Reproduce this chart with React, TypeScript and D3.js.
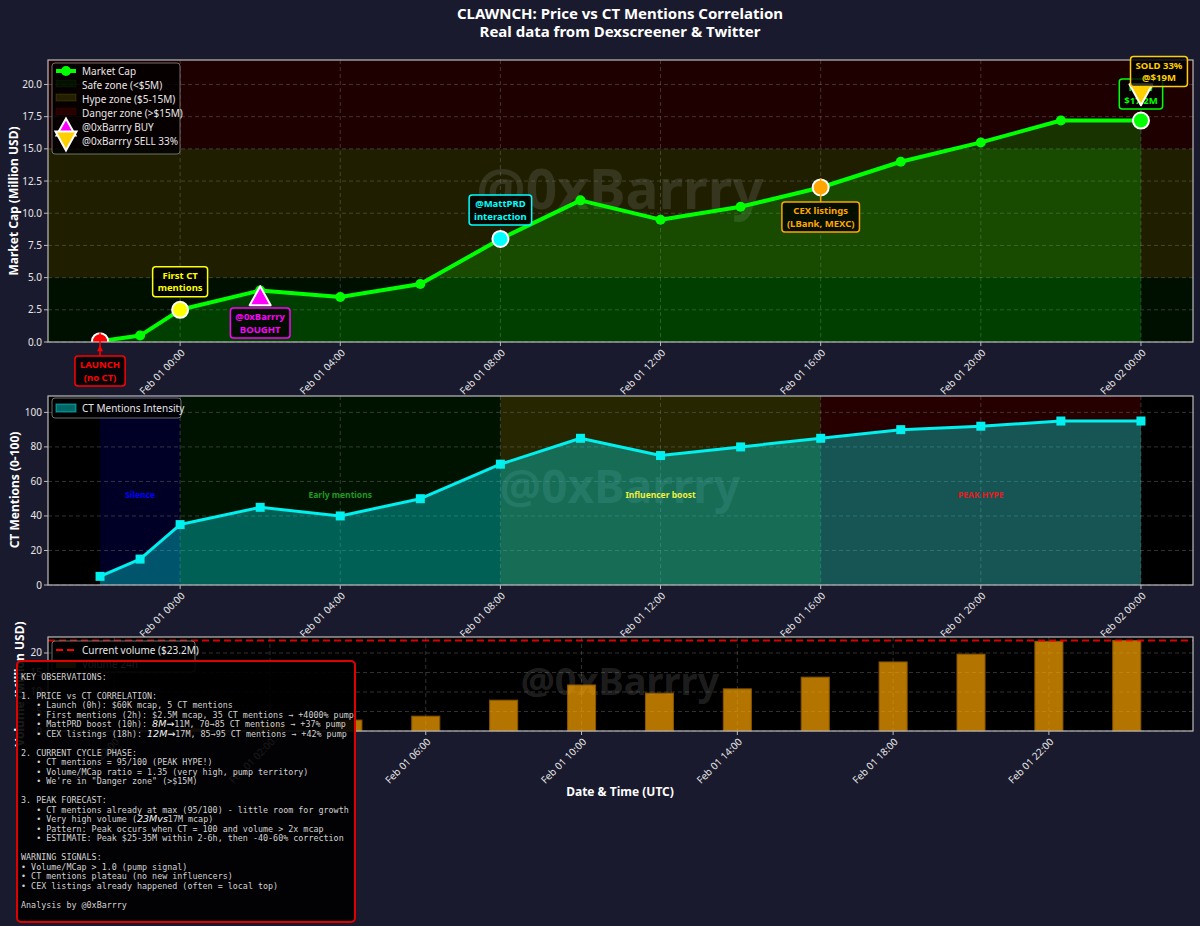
import React from 'react';
import * as d3 from 'd3';

// ---- data (hours relative to Feb 01 00:00 UTC) ----
const hours = [-2, -1, 0, 2, 4, 6, 8, 10, 12, 14, 16, 18, 20, 22, 24];
const marketCap = [0.06, 0.5, 2.5, 4.0, 3.5, 4.5, 8.0, 11.0, 9.5, 10.5, 12.0, 14.0, 15.5, 17.2, 17.2];
const ctMentions = [5, 15, 35, 45, 40, 50, 70, 85, 75, 80, 85, 90, 92, 95, 95];
const volumeHours = [-2, 0, 2, 4, 6, 8, 10, 12, 14, 16, 18, 20, 22, 24];
const volume24h = [0.1, 0.6, 1.8, 2.8, 3.8, 7.9, 11.8, 9.7, 10.8, 13.8, 17.7, 19.7, 23.0, 23.2];
const currentVolume = 23.2;

const topTicks = [0, 4, 8, 12, 16, 20, 24];
const volumeTicks = [-2, 2, 6, 10, 14, 18, 22];
const mcapYTicks = [0, 2.5, 5, 7.5, 10, 12.5, 15, 17.5, 20];
const ctYTicks = [0, 20, 40, 60, 80, 100];
const volYTicks = [0, 5, 10, 15, 20];

const mcapZones = [
  { label: 'Safe zone (<$5M)', from: 0, to: 5, color: '#008000' },
  { label: 'Hype zone ($5-15M)', from: 5, to: 15, color: '#ffff00' },
  { label: 'Danger zone (>$15M)', from: 15, to: 21.9, color: '#ff0000' },
];

const ctPhases = [
  { label: 'Silence', from: -2, to: 0, color: '#0000ff', text: '#0000ff' },
  { label: 'Early mentions', from: 0, to: 8, color: '#008000', text: '#1f9a1f' },
  { label: 'Influencer boost', from: 8, to: 16, color: '#ffff00', text: '#f0f040' },
  { label: 'PEAK HYPE', from: 16, to: 24, color: '#ff0000', text: '#e02020' },
];

const events = [
  { h: -2, v: 0.06, color: '#ff0000', lines: ['LAUNCH', '(no CT)'], th: -2, tv: -2.25, arrow: true },
  { h: 0, v: 2.5, color: '#ffff00', lines: ['First CT', 'mentions'], th: 0, tv: 4.67, arrow: false },
  { h: 8, v: 8.0, color: '#00ffff', lines: ['@MattPRD', 'interaction'], th: 8, tv: 10.25, arrow: false },
  { h: 16, v: 12.0, color: '#ffa500', lines: ['CEX listings', '(LBank, MEXC)'], th: 16, tv: 9.7, arrow: true },
  { h: 24, v: 17.2, color: '#00ff00', lines: ['NOW', '$17.2M'], th: 24, tv: 19.25, arrow: false },
];
const buy = { h: 2, v: 3.6, lines: ['@0xBarrry', 'BOUGHT'], th: 2, tv: 1.48 };
const sell = { h: 24, v: 19.2, lines: ['SOLD 33%', '@$19M'], th: 24.45, tv: 21.0 };

const noteLines: (string | [string, string, string])[] = [
  'KEY OBSERVATIONS:',
  '',
  '1. PRICE vs CT CORRELATION:',
  '   • Launch (0h): $60K mcap, 5 CT mentions',
  '   • First mentions (2h): $2.5M mcap, 35 CT mentions → +4000% pump',
  ['   • MattPRD boost (10h): ', '8M→', '11M, 70→85 CT mentions → +37% pump'],
  ['   • CEX listings (18h): ', '12M→', '17M, 85→95 CT mentions → +42% pump'],
  '',
  '2. CURRENT CYCLE PHASE:',
  '   • CT mentions = 95/100 (PEAK HYPE!)',
  '   • Volume/MCap ratio = 1.35 (very high, pump territory)',
  '   • We\'re in "Danger zone" (>$15M)',
  '',
  '3. PEAK FORECAST:',
  '   • CT mentions already at max (95/100) - little room for growth',
  ['   • Very high volume (', '23Mvs', '17M mcap)'],
  '   • Pattern: Peak occurs when CT = 100 and volume > 2x mcap',
  '   • ESTIMATE: Peak $25-35M within 2-6h, then -40-60% correction',
  '',
  'WARNING SIGNALS:',
  '• Volume/MCap > 1.0 (pump signal)',
  '• CT mentions plateau (no new influencers)',
  '• CEX listings already happened (often = local top)',
  '',
  'Analysis by @0xBarrry',
];

// ---- layout ----
const W = 1200;
const H = 926;
const L = 48;
const R = 1193;
const FONT = '"Noto Sans", "DejaVu Sans", sans-serif';
const MONO = '"DejaVu Sans Mono", monospace';
const TXT = '#e6e6e6';
const SPINE = '#bbbbbb';

const x1 = d3.scaleLinear().domain([-3.3, 25.3]).range([L, R]);
const x3 = d3.scaleLinear().domain([-3.7, 25.7]).range([L, R]);
const y1 = d3.scaleLinear().domain([0, 21.9]).range([342, 60]);
const y2 = d3.scaleLinear().domain([0, 109.5]).range([585, 396]);
const y3 = d3.scaleLinear().domain([0, 24.1]).range([731, 637]);

const base = Date.UTC(2026, 1, 1);
const fmt = d3.utcFormat('%b %d %H:%M');
const hourLabel = (h: number) => fmt(new Date(base + h * 3600e3));

let ctx: CanvasRenderingContext2D | null = null;
function measure(text: string, font: string) {
  if (!ctx) ctx = document.createElement('canvas').getContext('2d');
  if (!ctx) return text.length * 6;
  ctx.font = font;
  return ctx.measureText(text).width;
}

const tri = (w: number, hgt: number, down = false) =>
  down
    ? `M0,${hgt / 2}L${-w / 2},${-hgt / 2}L${w / 2},${-hgt / 2}Z`
    : `M0,${-hgt / 2}L${-w / 2},${hgt / 2}L${w / 2},${hgt / 2}Z`;

function Grid({ x, y, xt, yt, top, bottom }: any) {
  return (
    <g stroke="#8a8a8a" strokeOpacity={0.45} strokeWidth={0.8} strokeDasharray="4,3">
      {xt.map((t: number) => (
        <line key={'x' + t} x1={x(t)} x2={x(t)} y1={top} y2={bottom} />
      ))}
      {yt.map((t: number) => (
        <line key={'y' + t} x1={L} x2={R} y1={y(t)} y2={y(t)} />
      ))}
    </g>
  );
}

function Frame({ x, y, xt, yt, top, bottom, yfmt, id }: any) {
  return (
    <g>
      <rect x={L} y={top} width={R - L} height={bottom - top} fill="none" stroke={SPINE} strokeWidth={1.2} />
      {yt.map((t: number) => (
        <g key={id + 'yt' + t}>
          <line x1={L - 4} x2={L} y1={y(t)} y2={y(t)} stroke={SPINE} />
          <text x={L - 6} y={y(t)} dy="0.35em" textAnchor="end" fontSize={10} fill={TXT} fontFamily={FONT}>
            {yfmt(t)}
          </text>
        </g>
      ))}
      {xt.map((t: number) => (
        <g key={id + 'xt' + t}>
          <line x1={x(t)} x2={x(t)} y1={bottom} y2={bottom + 4} stroke={SPINE} />
          <text
            transform={`translate(${x(t) + 3},${bottom + 9}) rotate(-45)`}
            textAnchor="end"
            dy="0.35em"
            fontSize={10}
            fill={TXT}
            fontFamily={FONT}
          >
            {hourLabel(t)}
          </text>
        </g>
      ))}
    </g>
  );
}

function Watermark({ cx, cy, size }: any) {
  return (
    <text x={cx} y={cy} dy="0.35em" textAnchor="middle" fontSize={size} fontWeight="bold" fontFamily={FONT} fill="#808080" fillOpacity={0.24}>
      @0xBarrry
    </text>
  );
}

function Label({ cx, cy, lines, color }: any) {
  const fs = 9.5;
  const lh = 12.5;
  const font = `bold ${fs}px ${FONT}`;
  const w = Math.max(...lines.map((l: string) => measure(l, font))) + 10;
  const h = lines.length * lh + 5;
  return (
    <g>
      <rect x={cx - w / 2} y={cy - h / 2} width={w} height={h} rx={3} fill="#000" fillOpacity={0.8} stroke={color} strokeWidth={1.5} />
      {lines.map((l: string, i: number) => (
        <text
          key={i}
          x={cx}
          y={cy + (i - (lines.length - 1) / 2) * lh}
          dy="0.35em"
          textAnchor="middle"
          fontSize={fs}
          fontWeight="bold"
          fontFamily={FONT}
          fill={color}
        >
          {l}
        </text>
      ))}
    </g>
  );
}

export default function App() {
  const mcLine = d3.line<number>().x((_, i) => x1(hours[i])).y((d) => y1(d));
  const mcArea = d3.area<number>().x((_, i) => x1(hours[i])).y0(y1(0)).y1((d) => y1(d));
  const ctLine = d3.line<number>().x((_, i) => x1(hours[i])).y((d) => y2(d));
  const ctArea = d3.area<number>().x((_, i) => x1(hours[i])).y0(y2(0)).y1((d) => y2(d));
  const barW = x3(0.72) - x3(0);

  return (
    <svg width={W} height={H} style={{ position: 'absolute', left: 0, top: 0, background: '#1a1a2e' }} fontFamily={FONT}>
      <defs>
        <clipPath id="c1"><rect x={L} y={60} width={R - L} height={282} /></clipPath>
        <clipPath id="c2"><rect x={L} y={396} width={R - L} height={189} /></clipPath>
      </defs>
      <rect width={W} height={H} fill="#1a1a2e" />

      {/* title */}
      <text x={620} y={14} dy="0.35em" textAnchor="middle" fontSize={15} fontWeight="bold" fill="#fff">
        CLAWNCH: Price vs CT Mentions Correlation
      </text>
      <text x={620} y={32} dy="0.35em" textAnchor="middle" fontSize={15} fontWeight="bold" fill="#fff">
        Real data from Dexscreener &amp; Twitter
      </text>

      {/* ===== panel 1: market cap ===== */}
      <rect x={L} y={60} width={R - L} height={282} fill="#000" />
      {mcapZones.map((z) => (
        <rect key={z.label} x={L} width={R - L} y={y1(z.to)} height={y1(z.from) - y1(z.to)} fill={z.color} fillOpacity={0.12} />
      ))}
      <Grid x={x1} y={y1} xt={topTicks} yt={mcapYTicks} top={60} bottom={342} />
      <Watermark cx={620} cy={190} size={55} />
      <g clipPath="url(#c1)">
        <path d={mcArea(marketCap) || ''} fill="#00ff00" fillOpacity={0.2} />
        <path d={mcLine(marketCap) || ''} fill="none" stroke="#00ff00" strokeWidth={4} strokeLinejoin="round" />
        {marketCap.map((v, i) => (
          <circle key={i} cx={x1(hours[i])} cy={y1(v)} r={5} fill="#00ff00" />
        ))}
        {events.map((e) => (
          <circle key={'e' + e.h} cx={x1(e.h)} cy={y1(e.v)} r={8} fill={e.color} stroke="#fff" strokeWidth={2} />
        ))}
      </g>
      <Frame x={x1} y={y1} xt={topTicks} yt={mcapYTicks} top={60} bottom={342} yfmt={(t: number) => t.toFixed(1)} id="p1" />
      {events.map((e) => (
        <g key={'a' + e.h}>
          {e.arrow && (
            <line
              x1={x1(e.h)}
              x2={x1(e.h)}
              y1={y1(e.tv) + (e.tv < e.v ? -15 : 15)}
              y2={y1(e.v) + (e.tv < e.v ? -9 : 9)}
              stroke={e.color}
              strokeWidth={1.5}
            />
          )}
          {e.h === -2 && (
            <path d={`M${x1(e.h)},${y1(e.v) + 4}l-3,6h6Z`} fill={e.color} />
          )}
          <Label cx={x1(e.th)} cy={y1(e.tv)} lines={e.lines} color={e.color} />
        </g>
      ))}
      <path transform={`translate(${x1(buy.h)},${y1(buy.v)})`} d={tri(21, 19)} fill="#ff00ff" stroke="#fff" strokeWidth={2} strokeLinejoin="round" />
      <Label cx={x1(buy.th)} cy={y1(buy.tv)} lines={buy.lines} color="#ff00ff" />
      <path transform={`translate(${x1(sell.h)},${y1(sell.v)})`} d={tri(23, 21, true)} fill="#ffd000" stroke="#fff" strokeWidth={2} strokeLinejoin="round" />
      <Label cx={x1(sell.th)} cy={y1(sell.tv)} lines={sell.lines} color="#ffd000" />

      {/* legend 1 */}
      <g>
        <rect x={52} y={63} width={128} height={91} rx={3} fill="#000" fillOpacity={0.8} stroke="#888" strokeWidth={0.8} />
        <line x1={56} x2={76} y1={71} y2={71} stroke="#00ff00" strokeWidth={4} />
        <circle cx={66} cy={71} r={5} fill="#00ff00" />
        <text x={82} y={71} dy="0.35em" fontSize={10} fill={TXT}>Market Cap</text>
        {mcapZones.map((z, i) => (
          <g key={'lz' + i}>
            <rect x={56} y={80 + i * 14} width={20} height={7} fill={z.color} fillOpacity={0.12} stroke={z.color} strokeOpacity={0.12} />
            <text x={82} y={85 + i * 14} dy="0.35em" fontSize={10} fill={TXT}>{z.label}</text>
          </g>
        ))}
        <path transform="translate(66,127)" d={tri(19, 17)} fill="#ff00ff" stroke="#fff" strokeWidth={2} />
        <text x={82} y={127} dy="0.35em" fontSize={10} fill={TXT}>@0xBarrry BUY</text>
        <path transform="translate(66,141)" d={tri(21, 19, true)} fill="#ffd000" stroke="#fff" strokeWidth={2} />
        <text x={82} y={141} dy="0.35em" fontSize={10} fill={TXT}>@0xBarrry SELL 33%</text>
      </g>
      <text transform="translate(14,201) rotate(-90)" textAnchor="middle" dy="0.35em" fontSize={12} fontWeight="bold" fill="#fff">
        Market Cap (Million USD)
      </text>

      {/* ===== panel 2: CT mentions ===== */}
      <rect x={L} y={396} width={R - L} height={189} fill="#000" />
      {ctPhases.map((p) => (
        <rect key={p.label} x={x1(p.from)} width={x1(p.to) - x1(p.from)} y={396} height={189} fill={p.color} fillOpacity={0.15} />
      ))}
      <Grid x={x1} y={y2} xt={topTicks} yt={ctYTicks} top={396} bottom={585} />
      <Watermark cx={620} cy={487} size={46} />
      <g clipPath="url(#c2)">
        <path d={ctArea(ctMentions) || ''} fill="#00e0e0" fillOpacity={0.38} />
        <path d={ctLine(ctMentions) || ''} fill="none" stroke="#00f0f0" strokeWidth={3} strokeLinejoin="round" />
        {ctMentions.map((v, i) => (
          <rect key={i} x={x1(hours[i]) - 4.5} y={y2(v) - 4.5} width={9} height={9} fill="#00f0f0" />
        ))}
      </g>
      {ctPhases.map((p) => (
        <text key={'pl' + p.label} x={x1((p.from + p.to) / 2)} y={y2(52)} dy="0.35em" textAnchor="middle" fontSize={8.5} fontWeight="bold" fill={p.text}>
          {p.label}
        </text>
      ))}
      <Frame x={x1} y={y2} xt={topTicks} yt={ctYTicks} top={396} bottom={585} yfmt={(t: number) => String(t)} id="p2" />
      <g>
        <rect x={52} y={398} width={129} height={20} rx={3} fill="#000" fillOpacity={0.8} stroke="#888" strokeWidth={0.8} />
        <rect x={56} y={404} width={20} height={8} fill="#00ffff" fillOpacity={0.4} stroke="#00ffff" strokeOpacity={0.5} />
        <text x={82} y={408} dy="0.35em" fontSize={10} fill={TXT}>CT Mentions Intensity</text>
      </g>
      <text transform="translate(15,490) rotate(-90)" textAnchor="middle" dy="0.35em" fontSize={12} fontWeight="bold" fill="#fff">
        CT Mentions (0-100)
      </text>

      {/* ===== panel 3: volume ===== */}
      <rect x={L} y={637} width={R - L} height={94} fill="#000" />
      <Grid x={x3} y={y3} xt={volumeTicks} yt={volYTicks} top={637} bottom={731} />
      <Watermark cx={620} cy={682} size={38} />
      {volume24h.map((v, i) => (
        <rect
          key={i}
          x={x3(volumeHours[i]) - barW / 2}
          y={y3(v)}
          width={barW}
          height={y3(0) - y3(v)}
          fill="#ffa500"
          fillOpacity={0.7}
          stroke="#8a5500"
          strokeWidth={1}
        />
      ))}
      <line x1={L} x2={R} y1={y3(currentVolume)} y2={y3(currentVolume)} stroke="#ff0000" strokeWidth={2} strokeDasharray="7,4" strokeOpacity={0.85} />
      <Frame x={x3} y={y3} xt={volumeTicks} yt={volYTicks} top={637} bottom={731} yfmt={(t: number) => String(t)} id="p3" />
      <g>
        <rect x={52} y={641} width={143} height={31} rx={3} fill="#000" fillOpacity={0.8} stroke="#888" strokeWidth={0.8} />
        <line x1={56} x2={76} y1={650} y2={650} stroke="#ff0000" strokeWidth={2} strokeDasharray="7,4" />
        <text x={82} y={650} dy="0.35em" fontSize={10} fill={TXT}>Current volume ($23.2M)</text>
        <rect x={56} y={660} width={20} height={8} fill="#ffa500" fillOpacity={0.7} />
        <text x={82} y={664} dy="0.35em" fontSize={10} fill={TXT}>Volume 24h</text>
      </g>
      <text transform="translate(20,684) rotate(-90)" textAnchor="middle" dy="0.35em" fontSize={12} fontWeight="bold" fill="#fff">
        Volume (Million USD)
      </text>
      <text x={620} y={792} dy="0.35em" textAnchor="middle" fontSize={12} fontWeight="bold" fill="#fff">
        Date &amp; Time (UTC)
      </text>

      {/* ===== notes box ===== */}
      <rect x={17} y={661} width={338} height={261} rx={4} fill="#000" fillOpacity={0.9} stroke="#e00000" strokeWidth={2} />
      <g fontFamily={MONO} fontSize={8.4} fill="#d2d2d2" style={{ whiteSpace: 'pre' }}>
        {noteLines.map((ln, i) => {
          const y = 677 + i * 9.5;
          if (typeof ln === 'string') {
            return (
              <text key={i} x={21} y={y} dy="0.35em" xmlSpace="preserve">
                {ln}
              </text>
            );
          }
          return (
            <text key={i} x={21} y={y} dy="0.35em" xmlSpace="preserve">
              <tspan>{ln[0]}</tspan>
              <tspan fontFamily='"DejaVu Sans", sans-serif' fontStyle="italic" fontSize={9.5} fill="#f2f2f2">
                {ln[1]}
              </tspan>
              <tspan>{ln[2]}</tspan>
            </text>
          );
        })}
      </g>
    </svg>
  );
}
